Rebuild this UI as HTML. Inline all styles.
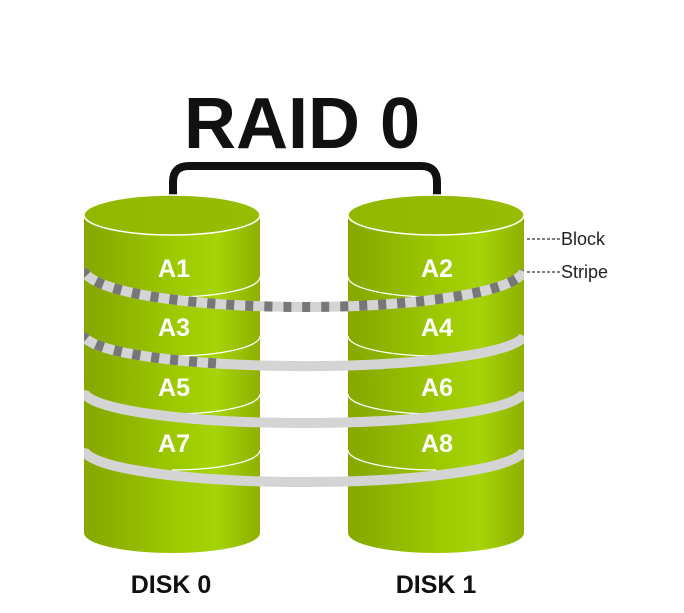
<!DOCTYPE html>
<html><head><meta charset="utf-8"><style>
html,body{margin:0;padding:0;background:#fff;width:684px;height:613px;overflow:hidden}
</style></head><body>
<svg width="684" height="613" viewBox="0 0 684 613" xmlns="http://www.w3.org/2000/svg">
<defs>
<linearGradient id="body" x1="0" x2="1" y1="0" y2="0">
<stop offset="0" stop-color="#86a800"/><stop offset="0.15" stop-color="#8cb000"/>
<stop offset="0.5" stop-color="#9cc800"/><stop offset="0.75" stop-color="#a6d408"/>
<stop offset="1" stop-color="#8eb000"/></linearGradient>
<linearGradient id="top" x1="0" x2="1" y1="0" y2="0">
<stop offset="0" stop-color="#92b800"/><stop offset="1" stop-color="#96bc04"/></linearGradient>
<clipPath id="cl"><rect x="84" y="0" width="440" height="613"/></clipPath>
</defs>
<text x="302" y="148" text-anchor="middle" font-family="Liberation Sans, sans-serif" font-weight="bold" font-size="72" fill="#111">RAID 0</text>
<path d="M173 216 V182 Q173 166 189 166 H421 Q437 166 437 182 V216" fill="none" stroke="#111" stroke-width="8"/>
<g>
<path d="M84 215 V533 A88 20 0 0 0 260 533 V215 Z" fill="url(#body)"/>
<ellipse cx="172" cy="215" rx="88" ry="20" fill="url(#top)" stroke="#fff" stroke-width="1.5"/>
<path d="M172 297 A88 20 0 0 0 260 277" fill="none" stroke="#fff" stroke-width="1.2"/>
<path d="M172 356 A88 20 0 0 0 260 336" fill="none" stroke="#fff" stroke-width="1.2"/>
<path d="M172 414 A88 20 0 0 0 260 394" fill="none" stroke="#fff" stroke-width="1.2"/>
<path d="M172 470 A88 20 0 0 0 260 450" fill="none" stroke="#fff" stroke-width="1.2"/>
</g>
<g transform="translate(264 0)">
<path d="M84 215 V533 A88 20 0 0 0 260 533 V215 Z" fill="url(#body)"/>
<ellipse cx="172" cy="215" rx="88" ry="20" fill="url(#top)" stroke="#fff" stroke-width="1.5"/>
<path d="M84 277 A88 20 0 0 0 172 297" fill="none" stroke="#fff" stroke-width="1.2"/>
<path d="M84 336 A88 20 0 0 0 172 356" fill="none" stroke="#fff" stroke-width="1.2"/>
<path d="M84 394 A88 20 0 0 0 172 414" fill="none" stroke="#fff" stroke-width="1.2"/>
<path d="M84 450 A88 20 0 0 0 172 470" fill="none" stroke="#fff" stroke-width="1.2"/>
</g>
<g clip-path="url(#cl)">
<g fill="none" stroke="#d4d4d4" stroke-width="10">
<path d="M84 268 A220 38 0 0 0 524 270"/>
<path d="M84 332 A220 32 0 0 0 524 336"/>
<path d="M84 390 A220 32 0 0 0 524 392"/>
<path d="M84 448 A220 33 0 0 0 524 450"/>
</g>
<path d="M84 268 A220 38 0 0 0 524 270" fill="none" stroke="#777" stroke-width="10" stroke-dasharray="8 11"/>
<path d="M84 332 A220 32 0 0 0 524 336" fill="none" stroke="#777" stroke-width="10" stroke-dasharray="8 11 8 11 8 11 8 11 8 11 8 11 8 11 8 500"/>
</g>
<g font-family="Liberation Sans, sans-serif" font-weight="bold" font-size="25" fill="#fff" text-anchor="middle">
<text x="174" y="277">A1</text><text x="437" y="277">A2</text>
<text x="174" y="336">A3</text><text x="437" y="336">A4</text>
<text x="174" y="396">A5</text><text x="437" y="396">A6</text>
<text x="174" y="452">A7</text><text x="437" y="452">A8</text>
</g>
<g stroke="#333" stroke-width="1.2" stroke-dasharray="3 2">
<line x1="527" y1="239" x2="560" y2="239"/><line x1="527" y1="272" x2="560" y2="272"/>
</g>
<g font-family="Liberation Sans, sans-serif" font-size="18" fill="#222">
<text x="561" y="245">Block</text><text x="561" y="278">Stripe</text>
</g>
<g font-family="Liberation Sans, sans-serif" font-weight="bold" font-size="25" fill="#111" text-anchor="middle">
<text x="171" y="593">DISK 0</text><text x="436" y="593">DISK 1</text>
</g>
</svg>
</body></html>
